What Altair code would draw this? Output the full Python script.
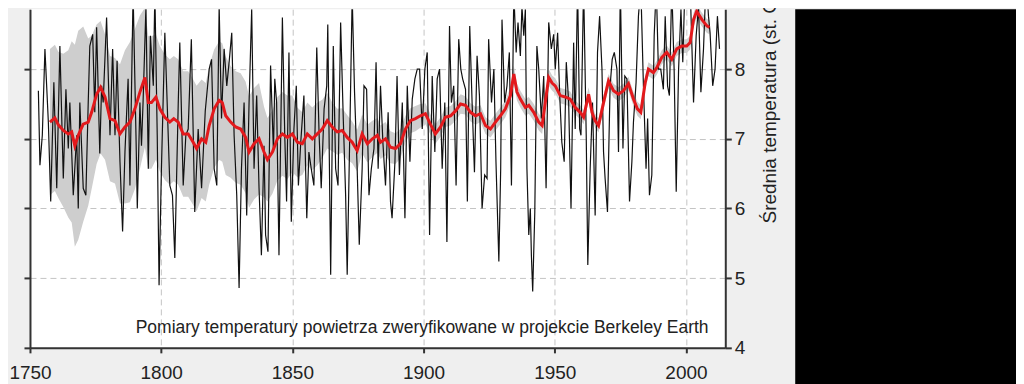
import altair as alt
import pandas as pd

# ---- data ----
black_t = [1753.2, 1753.8, 1754.7, 1755.7, 1757.0, 1757.9, 1759.1, 1760.2, 1761.4, 1762.7,
           1763.7, 1764.6, 1765.2, 1766.5, 1767.8, 1768.4, 1769.0, 1770.3, 1771.3, 1772.2,
           1772.8, 1773.9, 1774.7, 1775.4, 1776.6, 1777.3, 1777.9, 1779.2, 1780.5, 1781.5,
           1782.4, 1783.2, 1784.3, 1785.3, 1786.2, 1787.4, 1788.1, 1789.3, 1790.4, 1790.9,
           1791.9, 1792.5, 1793.1, 1794.2, 1795.1, 1795.9, 1797.0, 1797.6, 1798.5, 1799.2,
           1800.1, 1801.4, 1802.3, 1803.3, 1804.3, 1805.2, 1806.5, 1807.1, 1808.4, 1809.4,
           1810.3, 1811.5, 1812.8, 1814.1, 1815.4, 1816.8, 1818.3, 1819.2, 1820.2, 1821.2,
           1822.1, 1823.0, 1824.0, 1825.0, 1825.9, 1826.9, 1827.8, 1828.8, 1829.7, 1830.6,
           1831.6, 1832.6, 1833.5, 1834.5, 1835.4, 1836.4, 1837.3, 1838.2, 1839.2, 1839.8,
           1840.7, 1841.7, 1842.8, 1843.3, 1844.0, 1844.9, 1846.2, 1847.1, 1847.8, 1848.7,
           1849.6, 1850.6, 1851.5, 1852.3, 1853.2, 1854.4, 1855.5, 1856.3, 1857.2, 1858.2,
           1859.3, 1860.2, 1861.0, 1862.1, 1863.1, 1863.5, 1864.6, 1865.6, 1866.5, 1867.4,
           1868.4, 1869.4, 1870.3, 1870.9, 1872.0, 1872.8, 1873.7, 1874.7, 1875.5, 1876.6,
           1877.3, 1878.3, 1879.2, 1880.1, 1881.1, 1881.9, 1882.7, 1883.6, 1884.5, 1885.5,
           1886.5, 1887.4, 1888.0, 1889.1, 1889.9, 1890.8, 1891.9, 1892.9, 1893.8, 1894.8,
           1895.7, 1896.7, 1897.6, 1898.5, 1899.5, 1900.5, 1901.4, 1902.3, 1903.3, 1904.3,
           1905.2, 1906.1, 1907.1, 1908.1, 1908.9, 1909.9, 1910.6, 1911.5, 1912.4, 1913.4,
           1914.2, 1914.9, 1916.0, 1916.7, 1917.6, 1918.5, 1919.4, 1920.4, 1921.3, 1922.3,
           1923.3, 1924.2, 1924.8, 1925.9, 1926.8, 1927.6, 1928.7, 1929.4, 1929.9, 1930.9,
           1931.8, 1932.7, 1933.5, 1934.4, 1935.3, 1936.0, 1936.9, 1937.5, 1938.2, 1938.8,
           1939.4, 1940.1, 1940.7, 1941.1, 1941.6, 1942.4, 1943.2, 1943.9, 1944.9, 1945.8,
           1946.7, 1947.7, 1948.7, 1949.6, 1950.2, 1951.1, 1951.9, 1952.7, 1953.6, 1954.4,
           1955.3, 1956.2, 1957.2, 1957.8, 1958.7, 1959.5, 1960.0, 1961.0, 1962.0, 1962.6,
           1963.5, 1964.4, 1965.4, 1966.3, 1967.1, 1968.0, 1968.6, 1969.2, 1970.1, 1971.1,
           1971.9, 1972.7, 1973.7, 1974.3, 1975.0, 1976.0, 1976.7, 1977.5, 1978.5, 1979.4,
           1980.0, 1981.0, 1981.9, 1982.8, 1983.8, 1984.8, 1985.4, 1986.1, 1987.0, 1987.9,
           1988.7, 1989.5, 1990.4, 1991.4, 1992.1, 1993.0, 1993.7, 1994.6, 1995.5, 1996.3,
           1997.2, 1998.1, 1998.8, 1999.7, 2000.6, 2001.6, 2002.9, 2003.9, 2004.8, 2005.7,
           2006.7, 2007.7, 2008.6, 2009.2, 2010.2, 2011.1, 2012.0, 2012.8]
black_v = [7.69, 6.62, 7.05, 8.29, 7.24, 6.10, 7.81, 6.29, 8.33, 6.43,
           7.71, 6.86, 7.52, 6.19, 7.05, 6.00, 7.52, 6.29, 6.19, 7.52,
           8.33, 8.50, 7.38, 8.60, 6.79, 7.76, 7.52, 8.74, 7.05, 8.29,
           7.05, 8.12, 6.67, 5.67, 6.81, 7.86, 6.33, 9.10, 7.05, 6.00,
           7.52, 6.90, 7.52, 8.90, 6.57, 8.48, 7.76, 9.10, 7.05, 4.90,
           6.57, 8.52, 7.50, 6.33, 6.19, 5.29, 7.50, 8.38, 6.33, 7.05,
           7.14, 8.43, 5.95, 7.14, 6.29, 7.40, 8.00, 8.14, 6.57, 6.33,
           8.90, 7.29, 8.29, 7.76, 8.10, 8.52, 7.05, 6.19, 4.86, 6.57,
           7.52, 5.90, 7.52, 8.86, 6.57, 7.62, 6.29, 5.33, 6.90, 5.62,
           5.38, 8.05, 6.81, 7.86, 7.52, 5.33, 8.74, 7.05, 6.10, 8.24,
           5.81, 7.14, 7.76, 6.33, 6.95, 7.62, 5.86, 6.81, 6.57, 6.33,
           8.31, 7.05, 6.29, 7.43, 7.76, 8.64, 5.05, 8.33, 6.57, 6.33,
           8.67, 7.29, 6.19, 5.05, 7.29, 9.05, 7.67, 6.57, 5.48, 6.57,
           7.76, 7.71, 6.19, 6.57, 6.86, 8.10, 6.57, 7.76, 6.95, 6.33,
           7.38, 6.10, 5.86, 6.67, 7.90, 6.48, 7.52, 5.86, 7.76, 6.67,
           7.57, 7.86, 8.00, 8.00, 7.14, 8.00, 8.24, 5.62, 7.90, 6.81,
           7.86, 8.00, 6.57, 7.52, 5.52, 8.62, 7.52, 7.76, 6.33, 8.43,
           8.00, 7.86, 7.71, 6.10, 8.62, 7.52, 6.52, 8.19, 7.62, 6.00,
           6.48, 6.43, 8.43, 7.52, 8.00, 6.67, 5.24, 6.57, 8.71, 7.52,
           7.76, 8.24, 6.33, 9.10, 8.24, 8.67, 8.19, 8.90, 8.48, 8.86,
           6.57, 5.62, 6.00, 5.33, 4.81, 5.95, 8.33, 8.00, 7.29, 7.90,
           6.29, 8.67, 8.29, 8.50, 8.00, 8.52, 7.62, 6.95, 6.67, 8.10,
           7.52, 6.00, 8.38, 7.14, 9.20, 7.14, 7.05, 9.20, 7.05, 5.19,
           6.57, 7.52, 5.90, 8.24, 8.76, 8.00, 6.81, 6.43, 5.95, 7.76,
           8.14, 8.24, 8.00, 6.81, 9.20, 6.86, 7.90, 7.86, 6.10, 6.67,
           7.24, 7.81, 8.76, 9.20, 7.76, 6.57, 7.29, 6.19, 6.48, 8.48,
           9.20, 8.00, 8.00, 7.71, 8.76, 7.76, 7.62, 9.20, 8.00, 6.24,
           8.00, 8.86, 8.10, 9.30, 9.40, 9.20, 7.52, 8.48, 8.90, 7.67,
           8.29, 9.30, 8.76, 8.52, 7.76, 8.00, 8.76, 8.29]

red_t = [1757.6, 1759.5, 1760.8, 1762.7, 1764.6, 1765.9, 1767.1, 1768.4, 1770.3, 1772.2,
         1773.5, 1775.4, 1776.9, 1778.6, 1780.5, 1782.4, 1784.3, 1786.2, 1788.1, 1790.0,
         1791.9, 1793.8, 1795.1, 1796.3, 1798.0, 1799.5, 1801.4, 1803.3, 1804.8, 1806.5,
         1808.4, 1810.3, 1812.2, 1813.5, 1815.4, 1817.0, 1818.3, 1820.2, 1822.1, 1823.3,
         1824.6, 1826.5, 1828.4, 1830.3, 1832.2, 1833.5, 1835.4, 1837.3, 1839.2, 1840.5,
         1842.4, 1844.3, 1846.2, 1848.1, 1850.0, 1851.9, 1853.8, 1855.7, 1857.6, 1859.5,
         1861.4, 1863.3, 1865.2, 1867.1, 1869.0, 1870.9, 1872.8, 1874.7, 1876.6, 1878.6,
         1880.5, 1882.4, 1883.6, 1885.5, 1887.4, 1889.3, 1891.2, 1893.1, 1895.0, 1896.9,
         1898.8, 1900.7, 1902.6, 1904.5, 1906.5, 1908.3, 1910.3, 1912.2, 1914.1, 1916.0,
         1917.9, 1919.8, 1921.7, 1923.6, 1925.5, 1927.4, 1929.3, 1931.2, 1933.1, 1934.4,
         1935.6, 1936.9, 1938.8, 1940.1, 1942.0, 1943.9, 1945.2, 1946.4, 1947.7, 1949.0,
         1950.2, 1952.1, 1954.0, 1955.9, 1957.8, 1959.7, 1961.0, 1962.9, 1964.2, 1965.4,
         1966.7, 1968.6, 1970.5, 1972.4, 1974.3, 1976.2, 1978.1, 1980.0, 1981.5, 1982.8,
         1984.5, 1985.7, 1987.6, 1988.9, 1990.8, 1992.7, 1994.6, 1996.5, 1998.4, 2000.3,
         2001.6, 2002.9, 2004.1, 2006.1, 2008.0, 2009.0]
red_v = [7.24, 7.30, 7.20, 7.12, 7.07, 7.10, 6.90, 7.05, 7.21, 7.24,
         7.38, 7.64, 7.74, 7.60, 7.29, 7.26, 7.07, 7.17, 7.24, 7.43,
         7.67, 7.88, 7.52, 7.52, 7.60, 7.43, 7.31, 7.24, 7.29, 7.24,
         7.07, 7.07, 6.95, 6.86, 7.00, 6.95, 7.19, 7.43, 7.55, 7.52,
         7.33, 7.24, 7.17, 7.14, 7.02, 6.81, 6.93, 7.00, 6.81, 6.70,
         6.81, 7.00, 7.07, 7.02, 7.07, 6.95, 6.93, 7.07, 7.00, 7.07,
         7.14, 7.26, 7.17, 7.10, 7.12, 7.02, 6.95, 6.83, 7.07, 6.93,
         7.00, 7.05, 6.95, 7.00, 6.88, 6.86, 6.93, 7.14, 7.26, 7.29,
         7.33, 7.36, 7.21, 7.07, 7.17, 7.31, 7.33, 7.40, 7.50, 7.48,
         7.38, 7.33, 7.36, 7.19, 7.14, 7.24, 7.33, 7.43, 7.62, 7.93,
         7.67, 7.57, 7.45, 7.48, 7.38, 7.24, 7.19, 7.52, 7.88, 7.80,
         7.76, 7.62, 7.60, 7.57, 7.45, 7.38, 7.31, 7.64, 7.38, 7.26,
         7.19, 7.52, 7.83, 7.69, 7.64, 7.69, 7.79, 7.57, 7.43, 7.38,
         7.81, 8.00, 7.95, 8.02, 8.17, 8.24, 8.14, 8.29, 8.33, 8.33,
         8.38, 8.71, 8.83, 8.71, 8.62, 8.60]
red_unc = [1.05, 1.05, 1.05, 1.10, 1.20, 1.30, 1.45, 1.50, 1.40, 1.20,
           1.10, 1.00, 0.95, 0.90, 0.90, 0.90, 1.00, 1.10, 1.15, 1.15,
           1.10, 1.00, 0.95, 0.95, 0.90, 0.90, 0.90, 0.90, 0.90, 0.90,
           0.90, 0.90, 0.90, 0.90, 0.85, 0.85, 0.85, 0.85, 0.85, 0.85,
           0.85, 0.80, 0.80, 0.80, 0.80, 0.80, 0.80, 0.80, 0.65, 0.60,
           0.60, 0.60, 0.60, 0.60, 0.55, 0.50, 0.45, 0.45, 0.45, 0.45,
           0.42, 0.40, 0.35, 0.33, 0.32, 0.32, 0.30, 0.30, 0.28, 0.27,
           0.26, 0.25, 0.24, 0.24, 0.23, 0.22, 0.21, 0.19, 0.18, 0.18,
           0.17, 0.15, 0.15, 0.14, 0.14, 0.14, 0.14, 0.14, 0.14, 0.13,
           0.13, 0.13, 0.12, 0.12, 0.12, 0.12, 0.12, 0.12, 0.12, 0.12,
           0.12, 0.12, 0.12, 0.12, 0.12, 0.12, 0.12, 0.12, 0.12, 0.11,
           0.11, 0.11, 0.11, 0.11, 0.10, 0.10, 0.10, 0.10, 0.10, 0.10,
           0.10, 0.10, 0.10, 0.10, 0.10, 0.10, 0.10, 0.10, 0.10, 0.10,
           0.10, 0.10, 0.10, 0.10, 0.10, 0.10, 0.10, 0.10, 0.10, 0.10,
           0.10, 0.10, 0.10, 0.10, 0.10, 0.10]

x_ticks = [1750, 1800, 1850, 1900, 1950, 2000]
y_ticks = [4, 5, 6, 7, 8]
y_labels = [4, 5, 6, 7, 8, 9]
y_title = "Średnia temperatura (st. C)"
note_text = ["Pomiary temperatury powietrza zweryfikowane w projekcie Berkeley Earth"]
note_t = [1790.3]
note_v = [4.21]

# ---- tables ----
black_df = pd.DataFrame({"t": black_t, "v": black_v})
red_df = pd.DataFrame({"t": red_t, "v": red_v, "u": red_unc})
red_df["lo"] = red_df["v"] - red_df["u"]
red_df["hi"] = red_df["v"] + red_df["u"]
note_df = pd.DataFrame({"t": note_t, "v": note_v, "label": note_text})

FONT = "Liberation Sans"
xscale = alt.Scale(domain=[1750, 2015], nice=False, zero=False)
yscale = alt.Scale(domain=[4, 8.86], nice=False, zero=False)

x_axis = alt.Axis(values=x_ticks, format="d", title=None, labelFontSize=19, labelFont=FONT,
                  labelColor="#222222", tickColor="#333333", tickSize=5, tickWidth=2,
                  domainColor="#333333", domainWidth=2, labelPadding=11, grid=True,
                  gridDash=[6, 4], gridColor="#c4c4c4", gridWidth=1, labelFlush=False)
x_enc = alt.X("t:Q", scale=xscale, axis=x_axis)

left_axis = alt.Axis(orient="left", values=y_ticks, labels=False, title=None, grid=False,
                     tickSize=6, tickWidth=2, tickColor="#333333", domainColor="#333333",
                     domainWidth=2)
right_axis = alt.Axis(orient="right", values=y_labels, format="d", title=y_title,
                      labelFontSize=19, labelFont=FONT, labelColor="#222222", labelPadding=3,
                      tickSize=6, tickWidth=2, tickColor="#333333", domainColor="#333333",
                      domainWidth=2, grid=True, gridDash=[6, 4], gridColor="#c4c4c4",
                      gridWidth=1, titleFont=FONT, titleFontSize=19, titleFontWeight="normal",
                      titleColor="#222222", titleAngle=270, titleAlign="left",
                      titleBaseline="middle", titleX=44, titleY=214)

band = alt.Chart(red_df).mark_area(color="#cecece", clip=True).encode(
    x=x_enc,
    y=alt.Y("lo:Q", scale=yscale, axis=left_axis),
    y2="hi:Q",
)
black_line = alt.Chart(black_df).mark_line(color="#111111", strokeWidth=1.2, clip=True).encode(
    x=x_enc,
    y=alt.Y("v:Q", scale=yscale, axis=right_axis),
)
red_line = alt.Chart(red_df).mark_line(color="#e3191c", strokeWidth=3, clip=True).encode(
    x=x_enc,
    y=alt.Y("v:Q", scale=yscale, axis=None),
)
note = alt.Chart(note_df).mark_text(align="left", baseline="alphabetic", fontSize=17.5,
                                    font=FONT, color="#222222").encode(
    x=x_enc,
    y=alt.Y("v:Q", scale=yscale, axis=None),
    text="label:N",
)

main = alt.layer(band, black_line, red_line, note).resolve_axis(y="independent").properties(
    width=696, height=339,
    view=alt.ViewBackground(fill="white", strokeWidth=0),
)

black_panel = alt.Chart(pd.DataFrame({"t": [0]})).mark_point(opacity=0).encode(
    x=alt.X("t:Q", axis=None),
    y=alt.Y("t:Q", axis=None),
).properties(width=221, height=380, view=alt.ViewBackground(fill="black", strokeWidth=0))

chart = alt.hconcat(main, black_panel, spacing=16).properties(
    padding={"left": 0, "top": -16, "right": 0, "bottom": 0},
    background="#efefef",
)

chart.save("out.html", embed_options={"renderer": "svg", "actions": False})
